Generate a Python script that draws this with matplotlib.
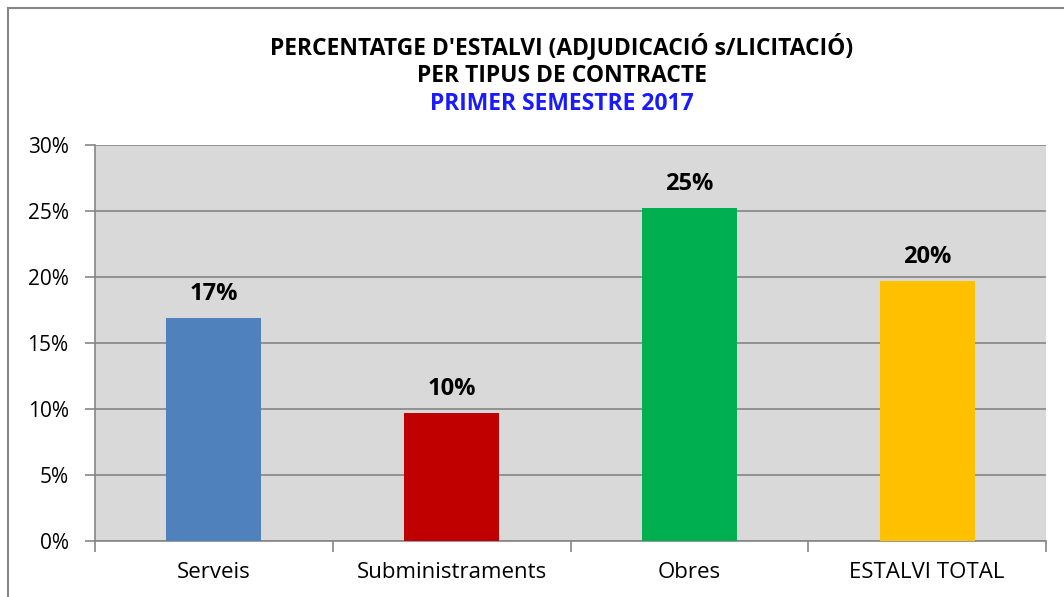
import matplotlib.pyplot as plt
from matplotlib.transforms import Bbox

categories = ['Serveis', 'Subministraments', 'Obres', 'ESTALVI TOTAL']
values = [16.9, 9.7, 25.2, 19.7]
value_labels = ['17%', '10%', '25%', '20%']
colors = ['#4f81bd', '#c00000', '#00b050', '#ffc000']
yticks = [0, 5, 10, 15, 20, 25, 30]

plt.rcParams['font.family'] = ['Open Sans', 'DejaVu Sans']

fig = plt.figure(figsize=(10.64, 5.97), dpi=100)
ax = fig.add_axes([95 / 1064, 1 - 541 / 597, (1046 - 95) / 1064, (541 - 145) / 597])
ax.set_facecolor('#d9d9d9')

x = range(len(categories))
ax.bar(x, values, width=0.4, color=colors, zorder=3)
for xi, v, lab in zip(x, values, value_labels):
    ax.text(xi, v + 0.9, lab, ha='center', va='bottom', fontsize=17, fontweight='bold', zorder=4)

ax.set_ylim(0, 30)
ax.set_xlim(-0.5, 3.5)
ax.set_yticks(yticks)
ax.set_yticklabels([f'{t}%' for t in yticks], fontsize=15)
ax.yaxis.grid(True, color='#868686', linewidth=1.2, zorder=1)
ax.tick_params(axis='y', length=7, width=1.2, color='#868686', pad=12)

ax.set_xticks([i - 0.5 for i in range(5)], minor=False)
ax.set_xticklabels([])
ax.set_xticks(list(x), minor=True)
ax.set_xticklabels(categories, minor=True, fontsize=16)
ax.tick_params(axis='x', which='major', length=8, width=1.2, color='#868686', direction='out')
ax.tick_params(axis='x', which='minor', length=0, pad=15)

for side in ['top', 'right']:
    ax.spines[side].set_visible(False)
for side in ['left', 'bottom']:
    ax.spines[side].set_color('#868686')
    ax.spines[side].set_linewidth(1.2)

# labels are cut off at the bottom in the original
clip = Bbox.from_extents(0, 597 - 580, 1064, 597)
for lab in ax.get_xticklabels(minor=True):
    lab.set_clip_box(clip)
    lab.set_clip_on(True)

fig.text(562 / 1064, 1 - 47 / 597, "PERCENTATGE D'ESTALVI (ADJUDICACIÓ s/LICITACIÓ)",
         ha='center', va='center', fontsize=16.5, fontweight='bold')
fig.text(562 / 1064, 1 - 76 / 597, 'PER TIPUS DE CONTRACTE',
         ha='center', va='center', fontsize=16.5, fontweight='bold')
fig.text(562 / 1064, 1 - 104 / 597, 'PRIMER SEMESTRE 2017',
         ha='center', va='center', fontsize=16.5, fontweight='bold', color='#1a1aff')

# outer frame of the chart
fig.add_artist(plt.Line2D([8 / 1064, 8 / 1064], [0, 1 - 8 / 597], color='#868686', linewidth=1.5))
fig.add_artist(plt.Line2D([8 / 1064, 1], [1 - 8 / 597, 1 - 8 / 597], color='#868686', linewidth=1.5))

fig.savefig('out.png', dpi=100)
